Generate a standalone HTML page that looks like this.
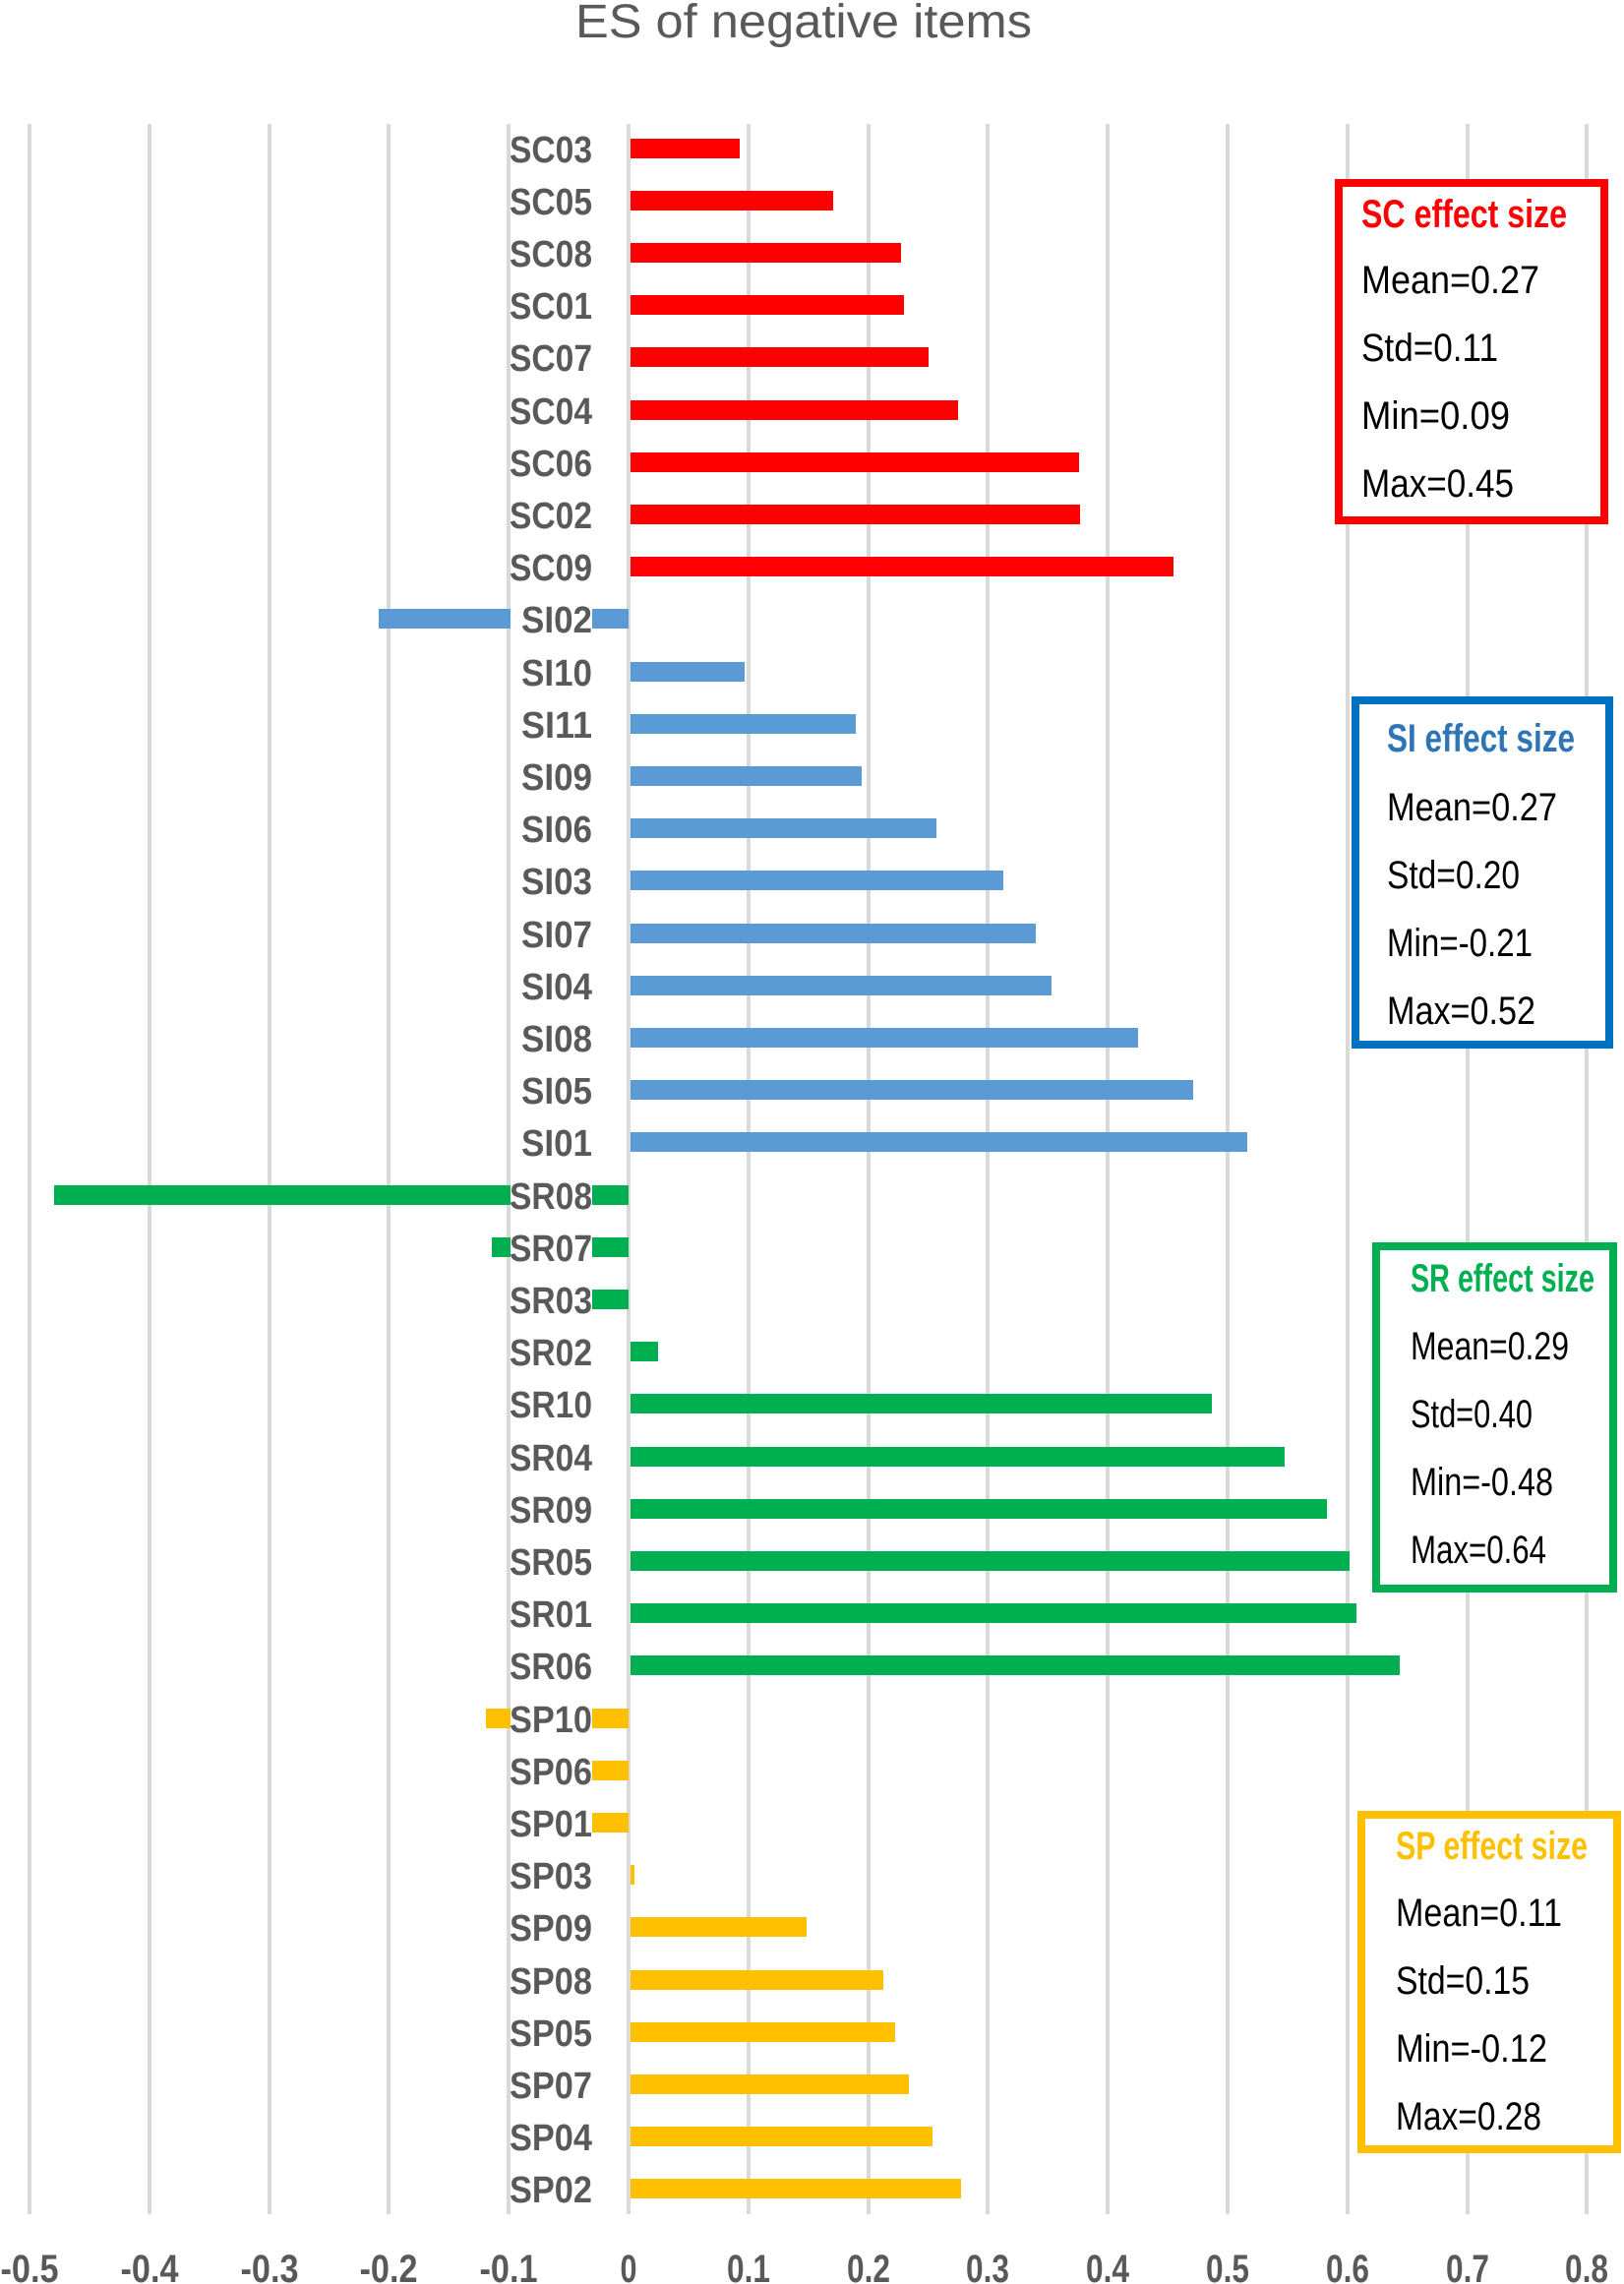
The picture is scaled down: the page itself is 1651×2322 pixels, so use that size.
<!DOCTYPE html>
<html><head><meta charset="utf-8"><style>
html,body{margin:0;padding:0;background:#fff;}
svg{display:block;}
.lb{font-family:"Liberation Sans Narrow","Liberation Sans",sans-serif;font-weight:bold;font-size:38px;fill:#595959;}
.tk{font-family:"Liberation Sans Narrow","Liberation Sans",sans-serif;font-weight:bold;font-size:40px;fill:#595959;}
.bx{font-family:"Liberation Sans Narrow","Liberation Sans",sans-serif;font-size:40px;fill:#000;}
.bt{font-family:"Liberation Sans Narrow","Liberation Sans",sans-serif;font-size:40px;font-weight:bold;}
</style></head><body>
<svg width="1651" height="2322" viewBox="0 0 1651 2322" xmlns="http://www.w3.org/2000/svg">
<text x="585" y="38" textLength="464" lengthAdjust="spacingAndGlyphs" font-family="Liberation Sans, sans-serif" font-size="48" fill="#595959">ES of negative items</text>
<g stroke="#d9d9d9" stroke-width="4">
<line x1="30" y1="126" x2="30" y2="2251"/><line x1="152" y1="126" x2="152" y2="2251"/><line x1="274" y1="126" x2="274" y2="2251"/><line x1="395" y1="126" x2="395" y2="2251"/><line x1="517" y1="126" x2="517" y2="2251"/><line x1="639" y1="126" x2="639" y2="2251"/><line x1="761" y1="126" x2="761" y2="2251"/><line x1="883" y1="126" x2="883" y2="2251"/><line x1="1004" y1="126" x2="1004" y2="2251"/><line x1="1126" y1="126" x2="1126" y2="2251"/><line x1="1248" y1="126" x2="1248" y2="2251"/><line x1="1370" y1="126" x2="1370" y2="2251"/><line x1="1492" y1="126" x2="1492" y2="2251"/><line x1="1613" y1="126" x2="1613" y2="2251"/>
</g>
<g fill="#ff0000">
<rect x="641" y="141" width="111" height="20"/><rect x="641" y="194" width="206" height="20"/><rect x="641" y="247" width="275" height="20"/><rect x="641" y="300" width="278" height="20"/><rect x="641" y="353" width="303" height="20"/><rect x="641" y="407" width="333" height="20"/><rect x="641" y="460" width="456" height="20"/><rect x="641" y="513" width="457" height="20"/><rect x="641" y="566" width="552" height="20"/>
</g>
<g fill="#5b9bd5">
<rect x="385" y="619" width="254" height="20"/><rect x="641" y="673" width="116" height="20"/><rect x="641" y="726" width="229" height="20"/><rect x="641" y="779" width="235" height="20"/><rect x="641" y="832" width="311" height="20"/><rect x="641" y="885" width="379" height="20"/><rect x="641" y="939" width="412" height="20"/><rect x="641" y="992" width="428" height="20"/><rect x="641" y="1045" width="516" height="20"/><rect x="641" y="1098" width="572" height="20"/><rect x="641" y="1151" width="627" height="20"/>
</g>
<g fill="#00b050">
<rect x="55" y="1205" width="584" height="20"/><rect x="500" y="1258" width="139" height="20"/><rect x="579" y="1311" width="60" height="20"/><rect x="641" y="1364" width="28" height="20"/><rect x="641" y="1417" width="591" height="20"/><rect x="641" y="1471" width="665" height="20"/><rect x="641" y="1524" width="708" height="20"/><rect x="641" y="1577" width="731" height="20"/><rect x="641" y="1630" width="738" height="20"/><rect x="641" y="1683" width="782" height="20"/>
</g>
<g fill="#ffc000">
<rect x="494" y="1737" width="145" height="20"/><rect x="579" y="1790" width="60" height="20"/><rect x="579" y="1843" width="60" height="20"/><rect x="641" y="1896" width="4" height="20"/><rect x="641" y="1949" width="179" height="20"/><rect x="641" y="2003" width="257" height="20"/><rect x="641" y="2056" width="269" height="20"/><rect x="641" y="2109" width="283" height="20"/><rect x="641" y="2162" width="307" height="20"/><rect x="641" y="2215" width="336" height="20"/>
</g>
<g fill="#fff">
<rect x="519" y="612" width="83" height="34"/><rect x="519" y="1198" width="83" height="34"/><rect x="519" y="1251" width="83" height="34"/><rect x="519" y="1304" width="83" height="34"/><rect x="519" y="1730" width="83" height="34"/><rect x="519" y="1783" width="83" height="34"/><rect x="519" y="1836" width="83" height="34"/>
</g>
<g class="lb" text-anchor="end">
<text x="602" y="165" textLength="84" lengthAdjust="spacingAndGlyphs">SC03</text><text x="602" y="218" textLength="84" lengthAdjust="spacingAndGlyphs">SC05</text><text x="602" y="271" textLength="84" lengthAdjust="spacingAndGlyphs">SC08</text><text x="602" y="324" textLength="84" lengthAdjust="spacingAndGlyphs">SC01</text><text x="602" y="377" textLength="84" lengthAdjust="spacingAndGlyphs">SC07</text><text x="602" y="431" textLength="84" lengthAdjust="spacingAndGlyphs">SC04</text><text x="602" y="484" textLength="84" lengthAdjust="spacingAndGlyphs">SC06</text><text x="602" y="537" textLength="84" lengthAdjust="spacingAndGlyphs">SC02</text><text x="602" y="590" textLength="84" lengthAdjust="spacingAndGlyphs">SC09</text>
<text x="602" y="643" textLength="72" lengthAdjust="spacingAndGlyphs">SI02</text><text x="602" y="697" textLength="72" lengthAdjust="spacingAndGlyphs">SI10</text><text x="602" y="750" textLength="72" lengthAdjust="spacingAndGlyphs">SI11</text><text x="602" y="803" textLength="72" lengthAdjust="spacingAndGlyphs">SI09</text><text x="602" y="856" textLength="72" lengthAdjust="spacingAndGlyphs">SI06</text><text x="602" y="909" textLength="72" lengthAdjust="spacingAndGlyphs">SI03</text><text x="602" y="963" textLength="72" lengthAdjust="spacingAndGlyphs">SI07</text><text x="602" y="1016" textLength="72" lengthAdjust="spacingAndGlyphs">SI04</text><text x="602" y="1069" textLength="72" lengthAdjust="spacingAndGlyphs">SI08</text><text x="602" y="1122" textLength="72" lengthAdjust="spacingAndGlyphs">SI05</text><text x="602" y="1175" textLength="72" lengthAdjust="spacingAndGlyphs">SI01</text>
<text x="602" y="1229" textLength="84" lengthAdjust="spacingAndGlyphs">SR08</text><text x="602" y="1282" textLength="84" lengthAdjust="spacingAndGlyphs">SR07</text><text x="602" y="1335" textLength="84" lengthAdjust="spacingAndGlyphs">SR03</text><text x="602" y="1388" textLength="84" lengthAdjust="spacingAndGlyphs">SR02</text><text x="602" y="1441" textLength="84" lengthAdjust="spacingAndGlyphs">SR10</text><text x="602" y="1495" textLength="84" lengthAdjust="spacingAndGlyphs">SR04</text><text x="602" y="1548" textLength="84" lengthAdjust="spacingAndGlyphs">SR09</text><text x="602" y="1601" textLength="84" lengthAdjust="spacingAndGlyphs">SR05</text><text x="602" y="1654" textLength="84" lengthAdjust="spacingAndGlyphs">SR01</text><text x="602" y="1707" textLength="84" lengthAdjust="spacingAndGlyphs">SR06</text>
<text x="602" y="1761" textLength="84" lengthAdjust="spacingAndGlyphs">SP10</text><text x="602" y="1814" textLength="84" lengthAdjust="spacingAndGlyphs">SP06</text><text x="602" y="1867" textLength="84" lengthAdjust="spacingAndGlyphs">SP01</text><text x="602" y="1920" textLength="84" lengthAdjust="spacingAndGlyphs">SP03</text><text x="602" y="1973" textLength="84" lengthAdjust="spacingAndGlyphs">SP09</text><text x="602" y="2027" textLength="84" lengthAdjust="spacingAndGlyphs">SP08</text><text x="602" y="2080" textLength="84" lengthAdjust="spacingAndGlyphs">SP05</text><text x="602" y="2133" textLength="84" lengthAdjust="spacingAndGlyphs">SP07</text><text x="602" y="2186" textLength="84" lengthAdjust="spacingAndGlyphs">SP04</text><text x="602" y="2239" textLength="84" lengthAdjust="spacingAndGlyphs">SP02</text>
</g>
<g class="tk" text-anchor="middle">
<text x="30" y="2320" textLength="59" lengthAdjust="spacingAndGlyphs">-0.5</text><text x="152" y="2320" textLength="59" lengthAdjust="spacingAndGlyphs">-0.4</text><text x="274" y="2320" textLength="59" lengthAdjust="spacingAndGlyphs">-0.3</text><text x="395" y="2320" textLength="59" lengthAdjust="spacingAndGlyphs">-0.2</text><text x="517" y="2320" textLength="59" lengthAdjust="spacingAndGlyphs">-0.1</text><text x="639" y="2320" textLength="17" lengthAdjust="spacingAndGlyphs">0</text><text x="761" y="2320" textLength="44" lengthAdjust="spacingAndGlyphs">0.1</text><text x="883" y="2320" textLength="44" lengthAdjust="spacingAndGlyphs">0.2</text><text x="1004" y="2320" textLength="44" lengthAdjust="spacingAndGlyphs">0.3</text><text x="1126" y="2320" textLength="44" lengthAdjust="spacingAndGlyphs">0.4</text><text x="1248" y="2320" textLength="44" lengthAdjust="spacingAndGlyphs">0.5</text><text x="1370" y="2320" textLength="44" lengthAdjust="spacingAndGlyphs">0.6</text><text x="1492" y="2320" textLength="44" lengthAdjust="spacingAndGlyphs">0.7</text><text x="1613" y="2320" textLength="44" lengthAdjust="spacingAndGlyphs">0.8</text>
</g>
<rect x="1361" y="186" width="270" height="343" fill="#fff" stroke="#ff0000" stroke-width="8"/>
<text class="bt" x="1384" y="231" fill="#ff0000" textLength="209" lengthAdjust="spacingAndGlyphs">SC effect size</text>
<text class="bx" x="1384" y="298" textLength="181" lengthAdjust="spacingAndGlyphs">Mean=0.27</text><text class="bx" x="1384" y="367" textLength="139" lengthAdjust="spacingAndGlyphs">Std=0.11</text><text class="bx" x="1384" y="436" textLength="151" lengthAdjust="spacingAndGlyphs">Min=0.09</text><text class="bx" x="1384" y="505" textLength="155" lengthAdjust="spacingAndGlyphs">Max=0.45</text>
<rect x="1378" y="712" width="258" height="350" fill="#fff" stroke="#0070c0" stroke-width="8"/>
<text class="bt" x="1410" y="764" fill="#2e75b6" textLength="191" lengthAdjust="spacingAndGlyphs">SI effect size</text>
<text class="bx" x="1410" y="834" textLength="173" lengthAdjust="spacingAndGlyphs">Mean=0.27</text><text class="bx" x="1410" y="903" textLength="135" lengthAdjust="spacingAndGlyphs">Std=0.20</text><text class="bx" x="1410" y="972" textLength="148" lengthAdjust="spacingAndGlyphs">Min=-0.21</text><text class="bx" x="1410" y="1041" textLength="151" lengthAdjust="spacingAndGlyphs">Max=0.52</text>
<rect x="1399" y="1267" width="241" height="348" fill="#fff" stroke="#00b050" stroke-width="8"/>
<text class="bt" x="1434" y="1313" fill="#00b050" textLength="187" lengthAdjust="spacingAndGlyphs">SR effect size</text>
<text class="bx" x="1434" y="1382" textLength="161" lengthAdjust="spacingAndGlyphs">Mean=0.29</text><text class="bx" x="1434" y="1451" textLength="124" lengthAdjust="spacingAndGlyphs">Std=0.40</text><text class="bx" x="1434" y="1520" textLength="145" lengthAdjust="spacingAndGlyphs">Min=-0.48</text><text class="bx" x="1434" y="1589" textLength="138" lengthAdjust="spacingAndGlyphs">Max=0.64</text>
<rect x="1384" y="1845" width="260" height="340" fill="#fff" stroke="#ffc000" stroke-width="8"/>
<text class="bt" x="1419" y="1890" fill="#ffc000" textLength="195" lengthAdjust="spacingAndGlyphs">SP effect size</text>
<text class="bx" x="1419" y="1958" textLength="169" lengthAdjust="spacingAndGlyphs">Mean=0.11</text><text class="bx" x="1419" y="2027" textLength="136" lengthAdjust="spacingAndGlyphs">Std=0.15</text><text class="bx" x="1419" y="2096" textLength="154" lengthAdjust="spacingAndGlyphs">Min=-0.12</text><text class="bx" x="1419" y="2165" textLength="148" lengthAdjust="spacingAndGlyphs">Max=0.28</text>
</svg>
</body></html>
